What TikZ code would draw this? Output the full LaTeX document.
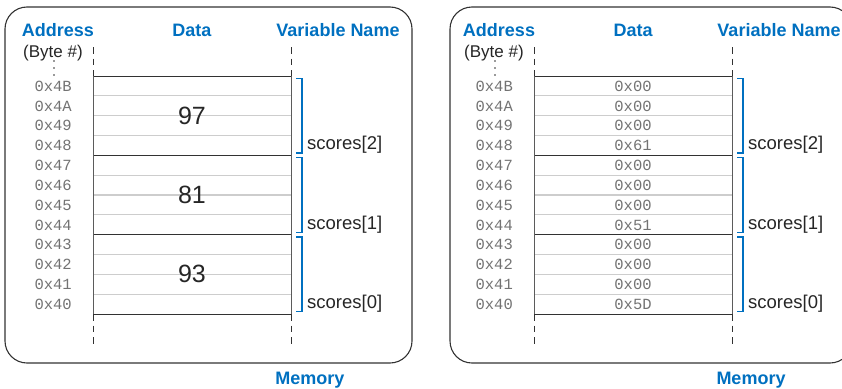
\documentclass[tikz,border=0pt]{standalone}
\usepackage{fontspec}
\setmainfont{Liberation Sans}
\newfontfamily\hexfont{Liberation Mono}
\definecolor{hdblue}{RGB}{0,112,192}
\definecolor{hexgray}{RGB}{115,115,115}
\definecolor{rowgray}{RGB}{205,205,205}
\definecolor{edgegray}{RGB}{50,50,50}
\tikzset{
  panel/.style={draw=edgegray,line width=1.1pt,rounded corners=22pt},
  head/.style={font=\fontsize{18}{20}\selectfont\bfseries,text=hdblue,inner sep=0pt},
  bytelbl/.style={font=\fontsize{17}{19}\selectfont,text=black!85,inner sep=0pt},
  addr/.style={font=\hexfont\fontsize{15.5}{17}\selectfont,text=hexgray,inner sep=0pt,anchor=east},
  hexval/.style={font=\hexfont\fontsize{15.5}{17}\selectfont,text=hexgray,inner sep=0pt},
  bigval/.style={font=\fontsize{25}{27}\selectfont,text=black!85,inner sep=0pt},
  varname/.style={font=\fontsize{18.5}{20}\selectfont,text=black!85,inner sep=0pt,anchor=base west},
  rowline/.style={draw=rowgray,line width=1.2pt},
  sepline/.style={draw=edgegray,line width=1pt},
  sideline/.style={draw=edgegray!80,line width=1pt},
  dashline/.style={draw=edgegray,line width=1pt,dash pattern=on 6.5pt off 5pt},
  bracket/.style={draw=hdblue,line width=1.3pt},
  dotmark/.style={fill=black!80}
}
\newcommand\drawmemory[2]{%
\begin{scope}[xshift=#2pt]
  \node[head] (#1-addr) at (58,30) {Address};
  \node[head] (#1-data) at (192,30) {Data};
  \node[head] (#1-var) at (338,30) {Variable Name};
  \node[bytelbl] (#1-byte) at (53,53) {(Byte \#)};
  \foreach \d in {61,68,75} {\fill[dotmark] (54,\d) circle (0.95pt);}
  % addresses
  \foreach \a [count=\i from 0] in {4B,4A,49,48,47,46,45,44,43,42,41,40}
    {\node[addr] (#1-a\a) at (72,{76+\i*19.8333+10.2}) {0x\a};}
  % box corners
  \coordinate (#1-tl) at (93,76);
  \coordinate (#1-tr) at (291,76);
  \coordinate (#1-bl) at (93,314);
  \coordinate (#1-br) at (291,314);
  \coordinate (#1-dtl) at (93,47);
  \coordinate (#1-dtr) at (291,47);
  \coordinate (#1-dbl) at (93,345);
  \coordinate (#1-dbr) at (291,345);
  % thin row lines
  \foreach \i in {1,2,3,5,6,7,9,10,11}
    {\draw[rowline] (93.5,{76+\i*19.8333}) -- (290.5,{76+\i*19.8333});}
  % separators
  \foreach \i in {0,4,8,12}
    {\draw[sepline] (93,{76+\i*19.8333}) -- (291,{76+\i*19.8333});}
  \draw[sideline] (#1-tl) -- (#1-bl);
  \draw[sideline] (#1-tr) -- (#1-br);
  \draw[dashline] (#1-dtl) -- (#1-tl);
  \draw[dashline] (#1-dtr) -- (#1-tr);
  \draw[dashline] (#1-bl) -- (#1-dbl);
  \draw[dashline] (#1-br) -- (#1-dbr);
  % brackets and variable names
  \foreach \g/\n in {0/2,1/1,2/0} {
    \coordinate (#1-bt\g) at (296,{76+\g*79.3333+2.3});
    \coordinate (#1-bb\g) at (296,{76+(\g+1)*79.3333-2.3});
    \draw[bracket] (#1-bt\g) -- ++(6,0) |- (#1-bb\g);
    \node[varname] (#1-v\n) at (307,{76+(\g+1)*79.3333-5.5}) {scores[\n]};
  }
  \node[head] (#1-mem) at (310,380) {Memory};
\end{scope}}
\begin{document}
\begin{tikzpicture}[x=1pt,y=-1pt]
\useasboundingbox (0,0) rectangle (842,388);
\clip (0,0) rectangle (842,388);
\draw[panel] (5,7) rectangle (412,363);
\draw[panel] (450,7) rectangle (852,363);
\drawmemory{L}{0}
\drawmemory{R}{441}
% decimal values
\node[bigval] (L-v97) at (192,115.7) {97};
\node[bigval] (L-v81) at (192,195.0) {81};
\node[bigval] (L-v93) at (192,274.3) {93};
% hex values
\foreach \h [count=\i from 0] in {00,00,00,61,00,00,00,51,00,00,00,5D}
  {\node[hexval] (R-h\i) at (633,{76+\i*19.8333+10.2}) {0x\h};}
\end{tikzpicture}
\end{document}
